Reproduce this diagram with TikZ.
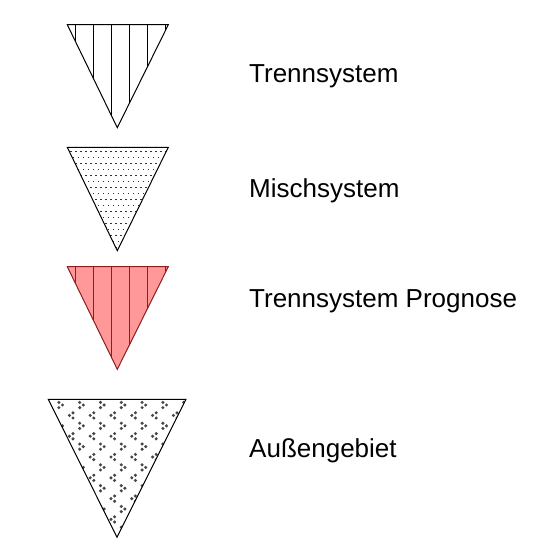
\documentclass[tikz,border=0pt]{standalone}
\usepackage{fontspec}
\setmainfont{Liberation Sans}
\definecolor{pinkfill}{RGB}{255,153,153}
\definecolor{darkred}{RGB}{140,30,30}
\begin{document}
\begin{tikzpicture}[x=1pt,y=-1pt, line join=miter,
  tri/.style={draw=black, line width=1pt},
  hatch/.style={line width=0.9pt},
  dotmark/.style={fill=black!80},
  blob/.style={fill=black!72},
  lbl/.style={anchor=base west, inner sep=0pt, font=\fontsize{26}{30}\selectfont}]
\useasboundingbox (0,0) rectangle (549,542);

% --- Trennsystem
\coordinate (t1a) at (67.3,24.7);
\coordinate (t1b) at (168.3,24.7);
\coordinate (t1c) at (117.3,127.7);
\begin{scope}
  \clip (t1a) -- (t1b) -- (t1c) -- cycle;
  \foreach \x in {75.5,93.5,...,166} \draw[hatch,black] (\x,20) -- (\x,130);
\end{scope}
\draw[tri] (t1a) -- (t1b) -- (t1c) -- cycle;

% --- Mischsystem
\coordinate (t2a) at (67.3,147.3);
\coordinate (t2b) at (168.3,147.3);
\coordinate (t2c) at (117.3,250.7);
\begin{scope}
  \clip (t2a) -- (t2b) -- (t2c) -- cycle;
  \foreach \r in {0,...,16}
    \foreach \c in {0,...,20}
      \fill[dotmark] ({70+5*\c+2.5*mod(\r,2)},{150.5+6*\r}) rectangle +(1.8,1.1);
\end{scope}
\draw[tri] (t2a) -- (t2b) -- (t2c) -- cycle;

% --- Trennsystem Prognose
\coordinate (t3a) at (67.3,266.7);
\coordinate (t3b) at (168.3,266.7);
\coordinate (t3c) at (117.3,369.3);
\fill[pinkfill] (t3a) -- (t3b) -- (t3c) -- cycle;
\begin{scope}
  \clip (t3a) -- (t3b) -- (t3c) -- cycle;
  \foreach \x in {75.5,93.5,...,166} \draw[hatch,darkred] (\x,260) -- (\x,372);
\end{scope}
\draw[tri,draw=darkred] (t3a) -- (t3b) -- (t3c) -- cycle;

% --- Aussengebiet
\coordinate (t4a) at (48.3,399.3);
\coordinate (t4b) at (186,399.3);
\coordinate (t4c) at (117,537.3);
\begin{scope}
  \clip (t4a) -- (t4b) -- (t4c) -- cycle;
  \foreach \j in {0,...,6}
    \foreach \i in {-1,...,6} {
      % ">" mark
      \begin{scope}[shift={({60.7+20.8*\i},{405+20.8*\j})}]
        \fill[blob] (-1.8,-2.6) circle (1.7);
        \fill[blob] (1.8,0) circle (1.7);
        \fill[blob] (-1.8,2.6) circle (1.7);
      \end{scope}
      % "<" mark
      \begin{scope}[shift={({71.2+20.8*\i},{415.4+20.8*\j})}]
        \fill[blob] (1.8,-2.6) circle (1.7);
        \fill[blob] (-1.8,0) circle (1.7);
        \fill[blob] (1.8,2.6) circle (1.7);
      \end{scope}
    }
\end{scope}
\draw[tri] (t4a) -- (t4b) -- (t4c) -- cycle;

% --- labels
\node[lbl] (l1) at (249,82.7) {Trennsystem};
\node[lbl] (l2) at (249,197.7) {Mischsystem};
\node[lbl] (l3) at (249,307.7) {Trennsystem Prognose};
\node[lbl] (l4) at (249,457.7) {Außengebiet};
\end{tikzpicture}
\end{document}
